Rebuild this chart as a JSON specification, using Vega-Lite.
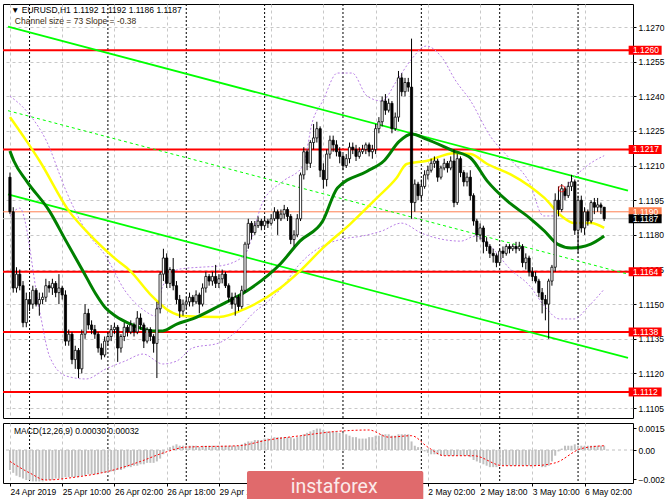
{
"$schema": "https://vega.github.io/schema/vega-lite/v6.json",
"background": "#ffffff",
"padding": {"left": 1, "top": 3, "right": 0, "bottom": 0},
"spacing": 3,
"config": {
  "view": {"stroke": "#000000", "strokeWidth": 1},
  "axis": {"labelFont": "Liberation Sans", "labelFontSize": 8.5, "labelColor": "#000000", "tickColor": "#000000", "domainColor": "#000000", "gridColor": "#c8c8c8", "gridDash": [3, 3], "gridWidth": 1, "labelOverlap": false},
  "text": {"font": "Liberation Sans"}
},
"resolve": {"scale": {"x": "independent", "y": "independent"}},
"datasets": {
  "days": [{"i": 6}, {"i": 30}, {"i": 54}, {"i": 78}, {"i": 102}, {"i": 126}, {"i": 150}, {"i": 174}],
  "levels": [{"v": 1.126}, {"v": 1.1217}, {"v": 1.1164}, {"v": 1.1138}, {"v": 1.1112}],
  "tags": [
    {"v": 1.126, "t": "1.1260", "k": "level"},
    {"v": 1.1217, "t": "1.1217", "k": "level"},
    {"v": 1.1164, "t": "1.1164", "k": "level"},
    {"v": 1.1138, "t": "1.1138", "k": "level"},
    {"v": 1.1112, "t": "1.1112", "k": "level"},
    {"v": 1.119, "t": "1.1190", "k": "ask"},
    {"v": 1.1187, "t": "1.1187", "k": "bid"}
  ],
  "chanSolid": [
    {"line": "upper", "i": -0.6, "p": 1.12702}, {"line": "upper", "i": 189.3, "p": 1.11992},
    {"line": "lower", "i": -0.6, "p": 1.11975}, {"line": "lower", "i": 189.3, "p": 1.11267}
  ],
  "chanMid": [{"i": -0.6, "p": 1.12338}, {"i": 189.3, "p": 1.1163}],
  "yellow": [
    {"i": 0, "p": 1.1231}, {"i": 5.1, "p": 1.12206}, {"i": 9.1, "p": 1.1212}, {"i": 18.1, "p": 1.11903}, {"i": 24.2, "p": 1.11804}, {"i": 32.3, "p": 1.11696}, {"i": 36.9, "p": 1.11643}, {"i": 42.9, "p": 1.11544}, {"i": 48.9, "p": 1.1147}, {"i": 52.9, "p": 1.11449}, {"i": 64, "p": 1.11444}, {"i": 72.5, "p": 1.11483}, {"i": 82.8, "p": 1.1157}, {"i": 88.8, "p": 1.11643}, {"i": 95.8, "p": 1.11743}, {"i": 104.2, "p": 1.11847}, {"i": 112.4, "p": 1.1196}, {"i": 118.4, "p": 1.12046}, {"i": 121.5, "p": 1.12107}, {"i": 127.5, "p": 1.1212}, {"i": 136, "p": 1.12154}, {"i": 141.1, "p": 1.1215}, {"i": 146.2, "p": 1.12107}, {"i": 153.2, "p": 1.12063}, {"i": 159.2, "p": 1.12011}, {"i": 163.7, "p": 1.1196}, {"i": 168.9, "p": 1.11882}, {"i": 172.8, "p": 1.11851}, {"i": 177.9, "p": 1.11851}, {"i": 182, "p": 1.1183}
  ],
  "green": [
    {"i": 0, "p": 1.12163}, {"i": 1.2, "p": 1.1212}, {"i": 5.1, "p": 1.12033}, {"i": 12.1, "p": 1.11903}, {"i": 17.2, "p": 1.11773}, {"i": 22.4, "p": 1.11643}, {"i": 26.3, "p": 1.11544}, {"i": 29.3, "p": 1.11483}, {"i": 32.3, "p": 1.11449}, {"i": 36.9, "p": 1.11414}, {"i": 43.8, "p": 1.11384}, {"i": 46.8, "p": 1.11384}, {"i": 51.1, "p": 1.11414}, {"i": 55.9, "p": 1.11436}, {"i": 64, "p": 1.11492}, {"i": 72.5, "p": 1.11557}, {"i": 82.8, "p": 1.11674}, {"i": 88.8, "p": 1.11773}, {"i": 95.8, "p": 1.1186}, {"i": 100.3, "p": 1.12003}, {"i": 109.4, "p": 1.12076}, {"i": 114.5, "p": 1.1212}, {"i": 119.3, "p": 1.12206}, {"i": 123, "p": 1.12237}, {"i": 127.5, "p": 1.12215}, {"i": 136, "p": 1.12163}, {"i": 141.1, "p": 1.12133}, {"i": 146.2, "p": 1.12033}, {"i": 152.3, "p": 1.11947}, {"i": 159.2, "p": 1.11873}, {"i": 163.7, "p": 1.11817}, {"i": 167.7, "p": 1.1176}, {"i": 171.9, "p": 1.11743}, {"i": 177.9, "p": 1.1176}, {"i": 182, "p": 1.11795}
  ],
  "bands": [
    {"b": "U", "i": 0, "p": 1.12401}, {"b": "U", "i": 5.1, "p": 1.12336}, {"b": "U", "i": 11.2, "p": 1.12206}, {"b": "U", "i": 17.2, "p": 1.1199}, {"b": "U", "i": 23.3, "p": 1.11817}, {"b": "U", "i": 29.3, "p": 1.11709}, {"b": "U", "i": 35.3, "p": 1.11557}, {"b": "U", "i": 41.4, "p": 1.1147}, {"b": "U", "i": 44.4, "p": 1.11449}, {"b": "U", "i": 46.8, "p": 1.11579}, {"b": "U", "i": 52, "p": 1.11652}, {"b": "U", "i": 59.5, "p": 1.11661}, {"b": "U", "i": 64, "p": 1.11665}, {"b": "U", "i": 71.6, "p": 1.11708}, {"b": "U", "i": 77.6, "p": 1.11947}, {"b": "U", "i": 83.7, "p": 1.12033}, {"b": "U", "i": 89.7, "p": 1.12098}, {"b": "U", "i": 92.7, "p": 1.12293}, {"b": "U", "i": 95.8, "p": 1.1238}, {"b": "U", "i": 100.3, "p": 1.12501}, {"b": "U", "i": 104.8, "p": 1.12501}, {"b": "U", "i": 109.4, "p": 1.12401}, {"b": "U", "i": 113.9, "p": 1.1238}, {"b": "U", "i": 118.4, "p": 1.12466}, {"b": "U", "i": 123, "p": 1.12561}, {"b": "U", "i": 127.5, "p": 1.12618}, {"b": "U", "i": 132, "p": 1.12574}, {"b": "U", "i": 136.6, "p": 1.12466}, {"b": "U", "i": 141.1, "p": 1.1238}, {"b": "U", "i": 147.1, "p": 1.12228}, {"b": "U", "i": 153.2, "p": 1.12128}, {"b": "U", "i": 159.2, "p": 1.12024}, {"b": "U", "i": 163.4, "p": 1.11882}, {"b": "U", "i": 167.3, "p": 1.11882}, {"b": "U", "i": 170, "p": 1.1199}, {"b": "U", "i": 176, "p": 1.1209}, {"b": "U", "i": 182, "p": 1.12143},
    {"b": "L", "i": 0, "p": 1.11882}, {"b": "L", "i": 3, "p": 1.11916}, {"b": "L", "i": 9.1, "p": 1.1147}, {"b": "L", "i": 12.1, "p": 1.11275}, {"b": "L", "i": 17.2, "p": 1.11189}, {"b": "L", "i": 23.3, "p": 1.11176}, {"b": "L", "i": 29.3, "p": 1.11219}, {"b": "L", "i": 35.3, "p": 1.11254}, {"b": "L", "i": 40.8, "p": 1.11284}, {"b": "L", "i": 46.8, "p": 1.11241}, {"b": "L", "i": 51.1, "p": 1.11254}, {"b": "L", "i": 55.9, "p": 1.1131}, {"b": "L", "i": 64, "p": 1.11332}, {"b": "L", "i": 70.1, "p": 1.11392}, {"b": "L", "i": 74.6, "p": 1.11462}, {"b": "L", "i": 79.2, "p": 1.11514}, {"b": "L", "i": 83.7, "p": 1.11579}, {"b": "L", "i": 88.2, "p": 1.11665}, {"b": "L", "i": 91.2, "p": 1.11708}, {"b": "L", "i": 95.8, "p": 1.11752}, {"b": "L", "i": 101.8, "p": 1.11782}, {"b": "L", "i": 107.9, "p": 1.11795}, {"b": "L", "i": 113.9, "p": 1.11817}, {"b": "L", "i": 119.9, "p": 1.11851}, {"b": "L", "i": 126, "p": 1.11808}, {"b": "L", "i": 132, "p": 1.11782}, {"b": "L", "i": 138.1, "p": 1.11773}, {"b": "L", "i": 142.6, "p": 1.11795}, {"b": "L", "i": 147.1, "p": 1.11752}, {"b": "L", "i": 153.2, "p": 1.11652}, {"b": "L", "i": 159.2, "p": 1.11579}, {"b": "L", "i": 163.7, "p": 1.11492}, {"b": "L", "i": 168.3, "p": 1.11436}, {"b": "L", "i": 172.8, "p": 1.11436}, {"b": "L", "i": 177.3, "p": 1.11492}, {"b": "L", "i": 182, "p": 1.11565}
  ],
  "signal": [
    {"i": 0, "s": -0.0008}, {"i": 6, "s": -0.0016}, {"i": 11, "s": -0.0021}, {"i": 20, "s": -0.0019}, {"i": 30, "s": -0.0015}, {"i": 40, "s": -0.0008}, {"i": 47, "s": -0.0002}, {"i": 54, "s": 0.0002}, {"i": 70, "s": 0.0003}, {"i": 79, "s": 0.0007}, {"i": 89, "s": 0.001}, {"i": 100, "s": 0.0013}, {"i": 110, "s": 0.0014}, {"i": 116, "s": 0.0009}, {"i": 123, "s": 0.001}, {"i": 128, "s": 0.0002}, {"i": 133, "s": -0.0004}, {"i": 142, "s": -0.0004}, {"i": 151, "s": -0.0011}, {"i": 160, "s": -0.0011}, {"i": 167, "s": -0.0009}, {"i": 175, "s": 0.0001}, {"i": 182, "s": 0.0003}
  ],
  "candles": [
    {"i": 0, "o": 1.1205, "h": 1.1207, "l": 1.1189, "c": 1.119, "m": -0.0014},
    {"i": 1, "o": 1.119, "h": 1.1192, "l": 1.1155, "c": 1.1157, "m": -0.0016},
    {"i": 2, "o": 1.1157, "h": 1.1166, "l": 1.1155, "c": 1.1163, "m": -0.0018},
    {"i": 3, "o": 1.1163, "h": 1.1165, "l": 1.1156, "c": 1.1158, "m": -0.0019},
    {"i": 4, "o": 1.1158, "h": 1.116, "l": 1.114, "c": 1.1142, "m": -0.002},
    {"i": 5, "o": 1.1142, "h": 1.1155, "l": 1.114, "c": 1.1152, "m": -0.0021},
    {"i": 6, "o": 1.1152, "h": 1.1155, "l": 1.1147, "c": 1.115, "m": -0.0021},
    {"i": 7, "o": 1.115, "h": 1.1158, "l": 1.1148, "c": 1.1156, "m": -0.0022},
    {"i": 8, "o": 1.1156, "h": 1.1157, "l": 1.1149, "c": 1.115, "m": -0.0022},
    {"i": 9, "o": 1.115, "h": 1.1155, "l": 1.1145, "c": 1.1152, "m": -0.0022},
    {"i": 10, "o": 1.1152, "h": 1.1155, "l": 1.115, "c": 1.1153, "m": -0.0022},
    {"i": 11, "o": 1.1153, "h": 1.1161, "l": 1.1151, "c": 1.1158, "m": -0.0021},
    {"i": 12, "o": 1.1158, "h": 1.116, "l": 1.1155, "c": 1.1157, "m": -0.0021},
    {"i": 13, "o": 1.1157, "h": 1.1161, "l": 1.1154, "c": 1.1159, "m": -0.0021},
    {"i": 14, "o": 1.1159, "h": 1.116, "l": 1.1153, "c": 1.1155, "m": -0.002},
    {"i": 15, "o": 1.1155, "h": 1.1163, "l": 1.115, "c": 1.1157, "m": -0.002},
    {"i": 16, "o": 1.1157, "h": 1.1158, "l": 1.1152, "c": 1.1154, "m": -0.002},
    {"i": 17, "o": 1.1154, "h": 1.1156, "l": 1.1132, "c": 1.1134, "m": -0.0019},
    {"i": 18, "o": 1.1134, "h": 1.1139, "l": 1.1132, "c": 1.1137, "m": -0.0019},
    {"i": 19, "o": 1.1137, "h": 1.1138, "l": 1.1124, "c": 1.1126, "m": -0.0019},
    {"i": 20, "o": 1.1126, "h": 1.1132, "l": 1.1122, "c": 1.113, "m": -0.0019},
    {"i": 21, "o": 1.113, "h": 1.1131, "l": 1.1118, "c": 1.1122, "m": -0.0019},
    {"i": 22, "o": 1.1122, "h": 1.1139, "l": 1.112, "c": 1.1137, "m": -0.0018},
    {"i": 23, "o": 1.1137, "h": 1.115, "l": 1.1135, "c": 1.1146, "m": -0.0018},
    {"i": 24, "o": 1.1146, "h": 1.1148, "l": 1.1139, "c": 1.1141, "m": -0.0017},
    {"i": 25, "o": 1.1141, "h": 1.1143, "l": 1.1137, "c": 1.1139, "m": -0.0017},
    {"i": 26, "o": 1.1139, "h": 1.1141, "l": 1.1135, "c": 1.1137, "m": -0.0017},
    {"i": 27, "o": 1.1137, "h": 1.1138, "l": 1.1129, "c": 1.1131, "m": -0.0017},
    {"i": 28, "o": 1.1131, "h": 1.1133, "l": 1.1126, "c": 1.1128, "m": -0.0016},
    {"i": 29, "o": 1.1128, "h": 1.1136, "l": 1.1127, "c": 1.1134, "m": -0.0016},
    {"i": 30, "o": 1.1134, "h": 1.1138, "l": 1.1132, "c": 1.1136, "m": -0.0016},
    {"i": 31, "o": 1.1136, "h": 1.1141, "l": 1.1134, "c": 1.1139, "m": -0.0015},
    {"i": 32, "o": 1.1139, "h": 1.1142, "l": 1.1137, "c": 1.114, "m": -0.0015},
    {"i": 33, "o": 1.114, "h": 1.1141, "l": 1.1125, "c": 1.1131, "m": -0.0014},
    {"i": 34, "o": 1.1131, "h": 1.1137, "l": 1.1129, "c": 1.1136, "m": -0.0014},
    {"i": 35, "o": 1.1136, "h": 1.1142, "l": 1.1134, "c": 1.114, "m": -0.0013},
    {"i": 36, "o": 1.114, "h": 1.1141, "l": 1.1136, "c": 1.1138, "m": -0.0012},
    {"i": 37, "o": 1.1138, "h": 1.1143, "l": 1.1137, "c": 1.1141, "m": -0.0012},
    {"i": 38, "o": 1.1141, "h": 1.1142, "l": 1.1136, "c": 1.1138, "m": -0.0011},
    {"i": 39, "o": 1.1138, "h": 1.1147, "l": 1.1137, "c": 1.1144, "m": -0.0011},
    {"i": 40, "o": 1.1144, "h": 1.1146, "l": 1.1139, "c": 1.1141, "m": -0.001},
    {"i": 41, "o": 1.1141, "h": 1.1142, "l": 1.1131, "c": 1.1134, "m": -0.001},
    {"i": 42, "o": 1.1134, "h": 1.114, "l": 1.1133, "c": 1.1139, "m": -0.0009},
    {"i": 43, "o": 1.1139, "h": 1.114, "l": 1.1134, "c": 1.1136, "m": -0.0009},
    {"i": 44, "o": 1.1136, "h": 1.1137, "l": 1.1129, "c": 1.1133, "m": -0.0009},
    {"i": 45, "o": 1.1133, "h": 1.1151, "l": 1.1118, "c": 1.1148, "m": -0.0008},
    {"i": 46, "o": 1.1148, "h": 1.1164, "l": 1.1146, "c": 1.1163, "m": -0.0006},
    {"i": 47, "o": 1.1163, "h": 1.1174, "l": 1.116, "c": 1.117, "m": -0.0003},
    {"i": 48, "o": 1.117, "h": 1.1172, "l": 1.1157, "c": 1.1159, "m": 0},
    {"i": 49, "o": 1.1159, "h": 1.1166, "l": 1.1157, "c": 1.1165, "m": 0.0002},
    {"i": 50, "o": 1.1165, "h": 1.117, "l": 1.1156, "c": 1.1158, "m": 0.0003},
    {"i": 51, "o": 1.1158, "h": 1.116, "l": 1.115, "c": 1.1152, "m": 0.0004},
    {"i": 52, "o": 1.1152, "h": 1.1154, "l": 1.1144, "c": 1.1147, "m": 0.0003},
    {"i": 53, "o": 1.1147, "h": 1.1152, "l": 1.1145, "c": 1.115, "m": 0.0003},
    {"i": 54, "o": 1.115, "h": 1.1153, "l": 1.1148, "c": 1.1151, "m": 0.0003},
    {"i": 55, "o": 1.1151, "h": 1.1155, "l": 1.1149, "c": 1.1153, "m": 0.0003},
    {"i": 56, "o": 1.1153, "h": 1.1154, "l": 1.1149, "c": 1.1151, "m": 0.0003},
    {"i": 57, "o": 1.1151, "h": 1.1156, "l": 1.115, "c": 1.1154, "m": 0.0003},
    {"i": 58, "o": 1.1154, "h": 1.1155, "l": 1.1146, "c": 1.115, "m": 0.0002},
    {"i": 59, "o": 1.115, "h": 1.1159, "l": 1.1149, "c": 1.1157, "m": 0.0003},
    {"i": 60, "o": 1.1157, "h": 1.1164, "l": 1.1155, "c": 1.1162, "m": 0.0003},
    {"i": 61, "o": 1.1162, "h": 1.1163, "l": 1.1158, "c": 1.116, "m": 0.0003},
    {"i": 62, "o": 1.116, "h": 1.1164, "l": 1.1158, "c": 1.1162, "m": 0.0003},
    {"i": 63, "o": 1.1162, "h": 1.1167, "l": 1.1157, "c": 1.1159, "m": 0.0003},
    {"i": 64, "o": 1.1159, "h": 1.1163, "l": 1.1157, "c": 1.1161, "m": 0.0003},
    {"i": 65, "o": 1.1161, "h": 1.1165, "l": 1.1159, "c": 1.1163, "m": 0.0003},
    {"i": 66, "o": 1.1163, "h": 1.1164, "l": 1.1157, "c": 1.1158, "m": 0.0003},
    {"i": 67, "o": 1.1158, "h": 1.1159, "l": 1.1151, "c": 1.1153, "m": 0.0003},
    {"i": 68, "o": 1.1153, "h": 1.1155, "l": 1.1148, "c": 1.115, "m": 0.0003},
    {"i": 69, "o": 1.115, "h": 1.1155, "l": 1.1145, "c": 1.1153, "m": 0.0003},
    {"i": 70, "o": 1.1153, "h": 1.1154, "l": 1.1147, "c": 1.1149, "m": 0.0003},
    {"i": 71, "o": 1.1149, "h": 1.1158, "l": 1.1148, "c": 1.1156, "m": 0.0004},
    {"i": 72, "o": 1.1156, "h": 1.1177, "l": 1.1155, "c": 1.1176, "m": 0.0005},
    {"i": 73, "o": 1.1176, "h": 1.1187, "l": 1.1174, "c": 1.1185, "m": 0.0006},
    {"i": 74, "o": 1.1185, "h": 1.1186, "l": 1.1178, "c": 1.1181, "m": 0.0006},
    {"i": 75, "o": 1.1181, "h": 1.1186, "l": 1.118, "c": 1.1184, "m": 0.0007},
    {"i": 76, "o": 1.1184, "h": 1.1188, "l": 1.1183, "c": 1.1186, "m": 0.0007},
    {"i": 77, "o": 1.1186, "h": 1.1187, "l": 1.1182, "c": 1.1184, "m": 0.0007},
    {"i": 78, "o": 1.1184, "h": 1.1188, "l": 1.1183, "c": 1.1186, "m": 0.0008},
    {"i": 79, "o": 1.1186, "h": 1.1187, "l": 1.1183, "c": 1.1185, "m": 0.0008},
    {"i": 80, "o": 1.1185, "h": 1.1189, "l": 1.1184, "c": 1.1187, "m": 0.0008},
    {"i": 81, "o": 1.1187, "h": 1.1192, "l": 1.1186, "c": 1.119, "m": 0.0009},
    {"i": 82, "o": 1.119, "h": 1.1191, "l": 1.118, "c": 1.1187, "m": 0.0009},
    {"i": 83, "o": 1.1187, "h": 1.1191, "l": 1.1186, "c": 1.1189, "m": 0.0009},
    {"i": 84, "o": 1.1189, "h": 1.1193, "l": 1.1187, "c": 1.1191, "m": 0.0009},
    {"i": 85, "o": 1.1191, "h": 1.1192, "l": 1.1186, "c": 1.1188, "m": 0.0009},
    {"i": 86, "o": 1.1188, "h": 1.1189, "l": 1.1176, "c": 1.1178, "m": 0.0009},
    {"i": 87, "o": 1.1178, "h": 1.1182, "l": 1.1175, "c": 1.118, "m": 0.0008},
    {"i": 88, "o": 1.118, "h": 1.1189, "l": 1.1179, "c": 1.1187, "m": 0.0009},
    {"i": 89, "o": 1.1187, "h": 1.1207, "l": 1.1186, "c": 1.1206, "m": 0.001},
    {"i": 90, "o": 1.1206, "h": 1.1218, "l": 1.1204, "c": 1.1216, "m": 0.0011},
    {"i": 91, "o": 1.1216, "h": 1.1217, "l": 1.1208, "c": 1.1211, "m": 0.0012},
    {"i": 92, "o": 1.1211, "h": 1.1221, "l": 1.1209, "c": 1.122, "m": 0.0013},
    {"i": 93, "o": 1.122, "h": 1.1228, "l": 1.1217, "c": 1.1222, "m": 0.0014},
    {"i": 94, "o": 1.1222, "h": 1.1229, "l": 1.122, "c": 1.1226, "m": 0.0015},
    {"i": 95, "o": 1.1226, "h": 1.1227, "l": 1.1205, "c": 1.1208, "m": 0.0015},
    {"i": 96, "o": 1.1208, "h": 1.1211, "l": 1.12, "c": 1.1204, "m": 0.0014},
    {"i": 97, "o": 1.1204, "h": 1.1217, "l": 1.1201, "c": 1.1215, "m": 0.0013},
    {"i": 98, "o": 1.1215, "h": 1.1223, "l": 1.1213, "c": 1.1221, "m": 0.0013},
    {"i": 99, "o": 1.1221, "h": 1.1223, "l": 1.1216, "c": 1.1219, "m": 0.0013},
    {"i": 100, "o": 1.1219, "h": 1.1221, "l": 1.1214, "c": 1.1216, "m": 0.0013},
    {"i": 101, "o": 1.1216, "h": 1.1218, "l": 1.1211, "c": 1.1214, "m": 0.0012},
    {"i": 102, "o": 1.1214, "h": 1.1215, "l": 1.1208, "c": 1.121, "m": 0.0012},
    {"i": 103, "o": 1.121, "h": 1.1215, "l": 1.1209, "c": 1.1213, "m": 0.0011},
    {"i": 104, "o": 1.1213, "h": 1.122, "l": 1.1211, "c": 1.1218, "m": 0.001},
    {"i": 105, "o": 1.1218, "h": 1.122, "l": 1.1215, "c": 1.1217, "m": 0.0009},
    {"i": 106, "o": 1.1217, "h": 1.1219, "l": 1.1212, "c": 1.1214, "m": 0.0009},
    {"i": 107, "o": 1.1214, "h": 1.1218, "l": 1.1213, "c": 1.1216, "m": 0.0008},
    {"i": 108, "o": 1.1216, "h": 1.1219, "l": 1.1215, "c": 1.1217, "m": 0.0008},
    {"i": 109, "o": 1.1217, "h": 1.122, "l": 1.1215, "c": 1.1219, "m": 0.0008},
    {"i": 110, "o": 1.1219, "h": 1.122, "l": 1.1214, "c": 1.1216, "m": 0.0009},
    {"i": 111, "o": 1.1216, "h": 1.1219, "l": 1.1213, "c": 1.1217, "m": 0.0009},
    {"i": 112, "o": 1.1217, "h": 1.1228, "l": 1.1215, "c": 1.1226, "m": 0.001},
    {"i": 113, "o": 1.1226, "h": 1.1231, "l": 1.1224, "c": 1.1229, "m": 0.001},
    {"i": 114, "o": 1.1229, "h": 1.124, "l": 1.1227, "c": 1.1238, "m": 0.0011},
    {"i": 115, "o": 1.1238, "h": 1.1241, "l": 1.1232, "c": 1.1234, "m": 0.0011},
    {"i": 116, "o": 1.1234, "h": 1.1239, "l": 1.1233, "c": 1.1237, "m": 0.0011},
    {"i": 117, "o": 1.1237, "h": 1.1238, "l": 1.1224, "c": 1.1226, "m": 0.001},
    {"i": 118, "o": 1.1226, "h": 1.1233, "l": 1.1225, "c": 1.1231, "m": 0.001},
    {"i": 119, "o": 1.1231, "h": 1.1251, "l": 1.1229, "c": 1.1248, "m": 0.0011},
    {"i": 120, "o": 1.1248, "h": 1.125, "l": 1.124, "c": 1.1242, "m": 0.0011},
    {"i": 121, "o": 1.1242, "h": 1.1248, "l": 1.124, "c": 1.1246, "m": 0.0011},
    {"i": 122, "o": 1.1246, "h": 1.1248, "l": 1.1242, "c": 1.1244, "m": 0.0011},
    {"i": 123, "o": 1.1244, "h": 1.1265, "l": 1.1187, "c": 1.1194, "m": 0.0006},
    {"i": 124, "o": 1.1194, "h": 1.1204, "l": 1.119, "c": 1.1202, "m": 0.0003},
    {"i": 125, "o": 1.1202, "h": 1.1203, "l": 1.1195, "c": 1.1197, "m": 0.0002},
    {"i": 126, "o": 1.1197, "h": 1.1204, "l": 1.1195, "c": 1.1201, "m": 0.0001},
    {"i": 127, "o": 1.1201, "h": 1.1208, "l": 1.12, "c": 1.1206, "m": -0.0001},
    {"i": 128, "o": 1.1206, "h": 1.121, "l": 1.1204, "c": 1.1208, "m": -0.0002},
    {"i": 129, "o": 1.1208, "h": 1.1213, "l": 1.1207, "c": 1.1211, "m": -0.0003},
    {"i": 130, "o": 1.1211, "h": 1.1214, "l": 1.1209, "c": 1.1212, "m": -0.0003},
    {"i": 131, "o": 1.1212, "h": 1.1213, "l": 1.1203, "c": 1.1205, "m": -0.0003},
    {"i": 132, "o": 1.1205, "h": 1.121, "l": 1.1204, "c": 1.1209, "m": -0.0004},
    {"i": 133, "o": 1.1209, "h": 1.1213, "l": 1.1208, "c": 1.1211, "m": -0.0004},
    {"i": 134, "o": 1.1211, "h": 1.1212, "l": 1.1207, "c": 1.1209, "m": -0.0004},
    {"i": 135, "o": 1.1209, "h": 1.1214, "l": 1.1208, "c": 1.1212, "m": -0.0004},
    {"i": 136, "o": 1.1212, "h": 1.1217, "l": 1.1192, "c": 1.1194, "m": -0.0004},
    {"i": 137, "o": 1.1194, "h": 1.1215, "l": 1.1193, "c": 1.1213, "m": -0.0004},
    {"i": 138, "o": 1.1213, "h": 1.1214, "l": 1.1205, "c": 1.1207, "m": -0.0004},
    {"i": 139, "o": 1.1207, "h": 1.1208, "l": 1.1201, "c": 1.1203, "m": -0.0004},
    {"i": 140, "o": 1.1203, "h": 1.1207, "l": 1.1201, "c": 1.1205, "m": -0.0004},
    {"i": 141, "o": 1.1205, "h": 1.1208, "l": 1.1195, "c": 1.1197, "m": -0.0005},
    {"i": 142, "o": 1.1197, "h": 1.1198, "l": 1.1184, "c": 1.1186, "m": -0.0007},
    {"i": 143, "o": 1.1186, "h": 1.1187, "l": 1.1177, "c": 1.118, "m": -0.0008},
    {"i": 144, "o": 1.118, "h": 1.1185, "l": 1.1178, "c": 1.1183, "m": -0.0009},
    {"i": 145, "o": 1.1183, "h": 1.1184, "l": 1.1172, "c": 1.1177, "m": -0.001},
    {"i": 146, "o": 1.1177, "h": 1.1179, "l": 1.1173, "c": 1.1175, "m": -0.0011},
    {"i": 147, "o": 1.1175, "h": 1.1176, "l": 1.117, "c": 1.1172, "m": -0.0012},
    {"i": 148, "o": 1.1172, "h": 1.1174, "l": 1.1168, "c": 1.1171, "m": -0.0012},
    {"i": 149, "o": 1.1171, "h": 1.1172, "l": 1.1166, "c": 1.1168, "m": -0.0012},
    {"i": 150, "o": 1.1168, "h": 1.1174, "l": 1.1167, "c": 1.1173, "m": -0.0011},
    {"i": 151, "o": 1.1173, "h": 1.1175, "l": 1.117, "c": 1.1172, "m": -0.0011},
    {"i": 152, "o": 1.1172, "h": 1.1176, "l": 1.1171, "c": 1.1175, "m": -0.0011},
    {"i": 153, "o": 1.1175, "h": 1.1176, "l": 1.1172, "c": 1.1174, "m": -0.0011},
    {"i": 154, "o": 1.1174, "h": 1.1176, "l": 1.1173, "c": 1.1175, "m": -0.0011},
    {"i": 155, "o": 1.1175, "h": 1.1177, "l": 1.1172, "c": 1.1174, "m": -0.0011},
    {"i": 156, "o": 1.1174, "h": 1.1177, "l": 1.1173, "c": 1.1175, "m": -0.0011},
    {"i": 157, "o": 1.1175, "h": 1.1176, "l": 1.1166, "c": 1.1168, "m": -0.0011},
    {"i": 158, "o": 1.1168, "h": 1.1172, "l": 1.1165, "c": 1.117, "m": -0.0011},
    {"i": 159, "o": 1.117, "h": 1.1171, "l": 1.1162, "c": 1.1164, "m": -0.0011},
    {"i": 160, "o": 1.1164, "h": 1.1166, "l": 1.116, "c": 1.1162, "m": -0.0011},
    {"i": 161, "o": 1.1162, "h": 1.1164, "l": 1.1159, "c": 1.116, "m": -0.0011},
    {"i": 162, "o": 1.116, "h": 1.1161, "l": 1.1153, "c": 1.1155, "m": -0.0011},
    {"i": 163, "o": 1.1155, "h": 1.1157, "l": 1.1146, "c": 1.1152, "m": -0.0012},
    {"i": 164, "o": 1.1152, "h": 1.1154, "l": 1.1143, "c": 1.115, "m": -0.0012},
    {"i": 165, "o": 1.115, "h": 1.1161, "l": 1.1135, "c": 1.116, "m": -0.0011},
    {"i": 166, "o": 1.116, "h": 1.1167, "l": 1.1158, "c": 1.1166, "m": -0.0008},
    {"i": 167, "o": 1.1166, "h": 1.1198, "l": 1.1164, "c": 1.1195, "m": -0.0004},
    {"i": 168, "o": 1.1195, "h": 1.1201, "l": 1.1188, "c": 1.1191, "m": -0.0001},
    {"i": 169, "o": 1.1191, "h": 1.1202, "l": 1.119, "c": 1.12, "m": 0.0001},
    {"i": 170, "o": 1.12, "h": 1.1201, "l": 1.1195, "c": 1.1197, "m": 0.0003},
    {"i": 171, "o": 1.1197, "h": 1.1203, "l": 1.1196, "c": 1.1201, "m": 0.0003},
    {"i": 172, "o": 1.1201, "h": 1.1206, "l": 1.1199, "c": 1.1203, "m": 0.0003},
    {"i": 173, "o": 1.1203, "h": 1.1204, "l": 1.118, "c": 1.1182, "m": 0.0004},
    {"i": 174, "o": 1.1182, "h": 1.1197, "l": 1.1172, "c": 1.1195, "m": 0.0003},
    {"i": 175, "o": 1.1195, "h": 1.1197, "l": 1.1181, "c": 1.1183, "m": 0.0003},
    {"i": 176, "o": 1.1183, "h": 1.1192, "l": 1.118, "c": 1.119, "m": 0.0003},
    {"i": 177, "o": 1.119, "h": 1.1191, "l": 1.1184, "c": 1.1186, "m": 0.0003},
    {"i": 178, "o": 1.1186, "h": 1.1195, "l": 1.1185, "c": 1.1194, "m": 0.0003},
    {"i": 179, "o": 1.1194, "h": 1.1196, "l": 1.1189, "c": 1.1192, "m": 0.0003},
    {"i": 180, "o": 1.1192, "h": 1.1196, "l": 1.119, "c": 1.1193, "m": 0.0003},
    {"i": 181, "o": 1.1193, "h": 1.1194, "l": 1.1189, "c": 1.1192, "m": 0.0003},
    {"i": 182, "o": 1.1192, "h": 1.1192, "l": 1.1186, "c": 1.1187, "m": 0.0003}
  ]
},
"vconcat": [
  {
    "width": 630,
    "height": 414,
    "layer": [
      {"data": {"name": "days"}, "mark": {"type": "rule", "color": "#000000", "strokeDash": [2, 2], "strokeWidth": 1},
       "encoding": {"x": {"field": "i", "type": "quantitative", "scale": {"domain": [-0.6, 189.3], "nice": false, "zero": false},
         "axis": {"title": null, "labels": false, "ticks": false, "domain": false, "grid": true, "tickCount": 40, "values": [0, 16, 32, 48, 64, 80, 96, 112, 128, 144, 160, 176]}}}},
      {"data": {"name": "levels"}, "mark": {"type": "rule", "color": "#ff0000", "strokeWidth": 2},
       "encoding": {"y": {"field": "v", "type": "quantitative", "scale": {"domain": [1.11007, 1.128], "nice": false, "zero": false},
         "axis": {"title": null, "orient": "right", "tickCount": 40, "values": [1.1105, 1.112, 1.1135, 1.115, 1.1165, 1.118, 1.1195, 1.121, 1.1225, 1.124, 1.1255, 1.127], "format": ".4f", "tickSize": 3, "labelPadding": 2, "grid": true, "domain": false, "labelOverlap": false}}}},
      {"data": {"values": [{"v": 1.119}]}, "mark": {"type": "rule", "color": "#ff7f50", "strokeWidth": 1},
       "encoding": {"y": {"field": "v", "type": "quantitative"}}},
      {"data": {"values": [{"v": 1.1187}]}, "mark": {"type": "rule", "color": "#c0c0c0", "strokeWidth": 1},
       "encoding": {"y": {"field": "v", "type": "quantitative"}}},
      {"data": {"name": "chanSolid"}, "mark": {"type": "line", "color": "#00ff00", "strokeWidth": 1.8},
       "encoding": {"x": {"field": "i", "type": "quantitative"}, "y": {"field": "p", "type": "quantitative"}, "detail": {"field": "line"}}},
      {"data": {"name": "chanMid"}, "mark": {"type": "line", "color": "#00ff00", "strokeWidth": 1, "strokeDash": [3, 3]},
       "encoding": {"x": {"field": "i", "type": "quantitative"}, "y": {"field": "p", "type": "quantitative"}}},
      {"data": {"name": "bands"}, "mark": {"type": "line", "color": "#b97fe6", "strokeWidth": 1, "strokeDash": [2, 2], "interpolate": "monotone"},
       "encoding": {"x": {"field": "i", "type": "quantitative"}, "y": {"field": "p", "type": "quantitative"}, "detail": {"field": "b"}}},
      {"data": {"name": "yellow"}, "mark": {"type": "line", "color": "#ffff00", "strokeWidth": 2.5, "interpolate": "monotone"},
       "encoding": {"x": {"field": "i", "type": "quantitative"}, "y": {"field": "p", "type": "quantitative"}}},
      {"data": {"name": "green"}, "mark": {"type": "line", "color": "#008000", "strokeWidth": 3, "interpolate": "monotone"},
       "encoding": {"x": {"field": "i", "type": "quantitative"}, "y": {"field": "p", "type": "quantitative"}}},
      {"data": {"name": "candles"}, "mark": {"type": "rule", "color": "#000000", "strokeWidth": 1},
       "encoding": {"x": {"field": "i", "type": "quantitative"}, "y": {"field": "l", "type": "quantitative"}, "y2": {"field": "h"}}},
      {"data": {"name": "candles"}, "mark": {"type": "bar", "width": 2.2, "stroke": "#000000", "strokeWidth": 0.8},
       "encoding": {"x": {"field": "i", "type": "quantitative"}, "y": {"field": "o", "type": "quantitative"}, "y2": {"field": "c"},
         "fill": {"condition": {"test": "datum.c >= datum.o", "value": "#ffffff"}, "value": "#000000"}}},
      {"data": {"values": [{"i": 169, "p": 1.12}]}, "mark": {"type": "point", "shape": "circle", "filled": false, "color": "#ff0000", "size": 40, "strokeWidth": 1},
       "encoding": {"x": {"field": "i", "type": "quantitative"}, "y": {"field": "p", "type": "quantitative"}}},
      {"data": {"values": [{"t": "▼ EURUSD,H1  1.1192 1.1192 1.1186 1.1187"}]}, "mark": {"type": "text", "align": "left", "baseline": "middle", "fontSize": 8.5, "color": "#000000"},
       "encoding": {"x": {"datum": 0.3, "type": "quantitative"}, "y": {"datum": 1.12774, "type": "quantitative"}, "text": {"field": "t"}}},
      {"data": {"values": [{"t": "Channel size = 73 Slope = -0.38"}]}, "mark": {"type": "text", "align": "left", "baseline": "middle", "fontSize": 8.5, "color": "#3a2a10"},
       "encoding": {"x": {"datum": 1.5, "type": "quantitative"}, "y": {"datum": 1.12726, "type": "quantitative"}, "text": {"field": "t"}}},
      {"data": {"name": "tags"}, "mark": {"type": "tick", "orient": "horizontal", "size": 33, "thickness": 9, "opacity": 1},
       "encoding": {"x": {"datum": 194.55, "type": "quantitative"}, "y": {"field": "v", "type": "quantitative"},
         "color": {"field": "k", "type": "nominal", "scale": {"domain": ["level", "ask", "bid"], "range": ["#ff0000", "#ff7f50", "#000000"]}, "legend": null}}},
      {"data": {"name": "tags"}, "mark": {"type": "text", "align": "left", "baseline": "middle", "fontSize": 8.5, "color": "#ffffff"},
       "encoding": {"x": {"datum": 190.8, "type": "quantitative"}, "y": {"field": "v", "type": "quantitative"}, "text": {"field": "t"}}}
    ]
  },
  {
    "width": 630,
    "height": 60,
    "layer": [
      {"data": {"name": "days"}, "mark": {"type": "rule", "color": "#000000", "strokeDash": [2, 2], "strokeWidth": 1},
       "encoding": {"x": {"field": "i", "type": "quantitative", "scale": {"domain": [-0.6, 189.3], "nice": false, "zero": false},
         "axis": {"title": null, "tickCount": 40, "values": [0, 16, 32, 48, 64, 80, 96, 112, 128, 144, 160, 176], "labelExpr": "['24 Apr 2019','25 Apr 10:00','26 Apr 02:00','26 Apr 18:00','29 Apr 10:00','30 Apr 02:00','30 Apr 18:00','1 May 10:00','2 May 02:00','2 May 18:00','3 May 10:00','6 May 02:00'][round(datum.value/16)]", "labelAlign": "left", "tickSize": 3, "labelPadding": 1, "grid": true, "domain": false, "labelFlush": false, "labelOverlap": false}}}},
      {"data": {"values": [{"z": 0}]}, "mark": {"type": "rule", "color": "#c0c0c0", "strokeDash": [3, 3], "strokeWidth": 1},
       "encoding": {"y": {"field": "z", "type": "quantitative", "scale": {"domain": [-0.00231, 0.00189], "nice": false, "zero": false},
         "axis": {"title": null, "orient": "right", "tickCount": 10, "values": [0.00154, 0, -0.00206], "labelExpr": "datum.value == 0 ? '0.00' : format(datum.value, '.5f')", "tickSize": 3, "labelPadding": 2, "grid": false, "domain": false, "labelOverlap": false}}}},
      {"data": {"name": "candles"}, "mark": {"type": "bar", "width": 2, "color": "#c0c0c0"},
       "encoding": {"x": {"field": "i", "type": "quantitative"}, "y": {"field": "m", "type": "quantitative"}, "y2": {"datum": 0}}},
      {"data": {"name": "signal"}, "mark": {"type": "line", "color": "#ff0000", "strokeWidth": 1, "strokeDash": [2, 2], "interpolate": "monotone"},
       "encoding": {"x": {"field": "i", "type": "quantitative"}, "y": {"field": "s", "type": "quantitative"}}},
      {"data": {"values": [{"t": "MACD(12,26,9) 0.00030 0.00032"}]}, "mark": {"type": "text", "align": "left", "baseline": "middle", "fontSize": 8.5, "color": "#000000"},
       "encoding": {"x": {"datum": 1.2, "type": "quantitative"}, "y": {"datum": 0.00133, "type": "quantitative"}, "text": {"field": "t"}}},
      {"data": {"values": [{"t": "instaforex"}]}, "mark": {"type": "rect", "color": "#e06a6c", "cornerRadius": 2},
       "encoding": {"x": {"datum": 72.6, "type": "quantitative"}, "x2": {"datum": 126.6}, "y": {"datum": -0.00147, "type": "quantitative"}, "y2": {"datum": -0.0036}}},
      {"data": {"values": [{"t": "instaforex"}]}, "mark": {"type": "text", "align": "center", "baseline": "alphabetic", "font": "Roboto", "fontSize": 19.5, "color": "#fbeaea"},
       "encoding": {"x": {"datum": 99.3, "type": "quantitative"}, "y": {"datum": -0.00301, "type": "quantitative"}, "text": {"field": "t"}}}
    ]
  }
]
}
